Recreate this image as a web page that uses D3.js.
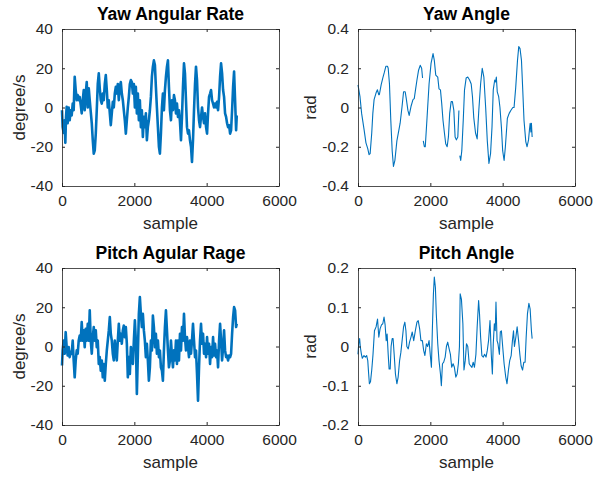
<!DOCTYPE html>
<html>
<head>
<meta charset="utf-8">
<script src="https://cdn.jsdelivr.net/npm/d3@7"></script>
<style>
  body { margin: 0; background: #fff; }
  svg { display: block; font-family: "Liberation Sans", Arial, Helvetica, sans-serif; }
</style>
</head>
<body>
<svg></svg>
<script>
const width = 593;
const height = 480;

// x ticks shared by all panels
const xTicks = [0, 2000, 4000, 6000];

// Yaw Angular Rate (degree/s)
const yawRateX = [0,18,46,74,92,111,129,157,185,212,240,268,296,323,351,379,407,434,462,490,518,545,573,601,628,656,684,712,740,767,795,823,851,878,906,934,961,989,1017,1044,1072,1100,1128,1155,1183,1211,1239,1266,1294,1322,1349,1377,1405,1432,1460,1488,1515,1543,1571,1599,1626,1654,1682,1709,1737,1765,1793,1820,1848,1876,1904,1931,1959,1987,2015,2042,2070,2098,2125,2153,2181,2208,2236,2264,2291,2319,2347,2374,2402,2430,2458,2486,2513,2541,2569,2596,2624,2652,2680,2707,2735,2763,2790,2818,2846,2874,2902,2929,2957,2985,3013,3040,3068,3096,3123,3151,3179,3206,3234,3262,3290,3317,3345,3373,3400,3428,3456,3484,3511,3539,3567,3594,3622,3650,3678,3705,3733,3761,3789,3816,3844,3872,3900,3927,3955,3983,4011,4038,4066,4094,4121,4149,4177,4204,4232,4260,4287,4315,4343,4371,4398,4426,4454,4481,4509,4537,4564,4592,4620,4648,4675,4703,4731,4758,4786,4814,4832];
const yawRateY = [-1.4,-10,-13,-6.5,-18,-5,0.3,-8,0,-6.5,-1.4,-4,2,-1.4,15.7,8.9,3.7,6.3,3.7,5.4,1.2,-3,3.7,8.9,-1.4,7.1,13,0,9.8,3.7,-2.2,-8,-16.7,-23.5,-21.8,-13.3,-1.4,12,17.4,9.8,3.7,2,7.1,3.7,12,16.5,8.9,0,3.7,-3,-9,-3,2.9,0,7.1,10.5,7.1,12,3.7,10.5,13,7.1,3.7,-1.4,-6.5,-13.3,-6.5,0,5.4,12,14,13,7.1,12,0,10.5,-3,7.1,-6.5,3.7,-10,-1.4,-15,-4.8,-10,-3,-16.7,-10,-6.5,-1.4,5.4,15.7,20.8,24,21.6,10.5,0,-10,-20,-23.5,-13.3,0,7.1,-1.4,8.9,15.7,20.8,24,10.5,-1.4,-6.5,3.7,-1.4,6.3,3.7,-3,2,-4.8,-1.4,-7.3,-16.7,-4.8,10.5,22.5,17.4,3.7,-10,-13.3,-11.6,-16.7,-20,-27.7,-16.7,-1.4,12,20.8,14,0,-6.5,-10,-4.8,0,-4.8,-8,-3,-10,-13.3,-3,5.4,7.1,8.9,3.7,2,0,2,0,2.9,-1.4,5.4,15.7,22.5,17.4,8.9,5.4,-3,-4.8,-8,-10,-9,-13.3,-11.6,-1.4,10.5,18.3,3.7,-11.6,-4];

// Yaw Angle (rad), null marks a break in the record
const yawAngX = [0,55,100,170,220,270,305,335,380,410,445,500,537,575,590,640,685,730,770,815,835,870,907,945,980,1020,1075,1130,1165,1215,1260,1305,1335,1380,1415,1465,1520,1555,1590,1630,1675,1720,1760,1785,1795,1805,1835,1860,1910,1965,2020,2075,2110,2150,2205,2240,2280,2315,2350,2390,2425,2465,2500,2535,2575,2610,2650,2685,2720,2760,2790,2800,2815,2840,2870,2910,2945,2990,3035,3085,3130,3165,3200,3250,3295,3340,3390,3435,3480,3530,3575,3620,3665,3705,3740,3780,3805,3825,3850,3890,3925,3965,4000,4040,4075,4130,4180,4225,4280,4315,4360,4410,4445,4480,4520,4555,4590,4640,4675,4715,4740,4760,4780,4795,4815];
const yawAngY = [0.115,0.055,-0.03,-0.115,-0.18,-0.21,-0.24,-0.235,-0.13,-0.03,0.04,0.075,0.09,0.065,0.065,0.115,0.15,0.18,0.21,0.21,0.2,0.12,-0.065,-0.22,-0.30,-0.27,-0.17,-0.115,-0.08,0.0,0.08,0.08,0.045,-0.015,-0.04,0.005,0.04,0.045,0.09,0.14,0.19,0.215,0.2,0.15,null,-0.17,-0.2,-0.2,-0.05,0.12,0.225,0.275,0.24,0.165,0.155,0.095,0.09,0.02,-0.065,-0.13,-0.185,-0.2,-0.15,-0.03,0.03,0.03,-0.015,-0.15,-0.165,-0.15,-0.015,null,-0.245,-0.27,-0.22,-0.065,0.09,0.15,0.155,0.14,0.12,0.055,-0.05,-0.13,-0.16,-0.015,0.12,0.2,0.155,0.0,-0.17,-0.285,-0.235,-0.1,0.09,0.14,0.13,0.155,0.08,0.055,0.0,-0.1,-0.22,-0.27,-0.2,-0.055,-0.03,-0.015,0.0,0.0,0.1,0.24,0.31,0.30,0.24,0.09,-0.065,-0.175,-0.2,-0.165,-0.115,-0.08,-0.125,-0.08,-0.15];

// Pitch Agular Rage (degree/s)
const pitchRateX = [0,18,46,74,102,129,157,185,212,240,268,296,323,351,379,407,434,462,490,518,545,573,601,628,656,684,712,740,767,795,823,851,878,906,934,961,989,1017,1044,1072,1100,1128,1155,1183,1211,1239,1266,1294,1322,1349,1377,1405,1432,1460,1488,1515,1543,1571,1599,1626,1654,1682,1709,1737,1765,1793,1820,1848,1876,1904,1931,1959,1987,2015,2042,2070,2098,2125,2153,2181,2208,2236,2264,2291,2319,2347,2374,2402,2430,2458,2486,2513,2541,2569,2596,2624,2652,2680,2707,2735,2763,2790,2818,2846,2874,2902,2929,2957,2985,3013,3040,3068,3096,3123,3151,3179,3206,3234,3262,3290,3317,3345,3373,3400,3428,3456,3484,3511,3539,3567,3594,3622,3650,3678,3705,3733,3761,3789,3816,3844,3872,3900,3927,3955,3983,4011,4038,4066,4094,4121,4149,4177,4204,4232,4260,4287,4315,4343,4371,4398,4426,4454,4481,4509,4537,4564,4592,4620,4648,4675,4703,4731,4758,4786,4814,4832];
const pitchRateY = [-9.7,-2,3,-3.7,7.3,-0.3,-4.6,-0.3,-5.4,-2.9,-3.7,3,-7.1,-15.7,-7.1,-2,-3.7,3,5.6,3,12.4,3,8.2,-0.3,9,3,11.6,3,18.4,3,-3.7,4.8,9.9,3,8.2,-0.3,3,-8.9,-5.4,-12.3,-7.1,-15.7,-8.9,-17.4,-8.9,-2,3,8.2,15,6.5,3,-3.7,-7.1,3,-2,-7.1,3,11.6,3,6.5,1.4,8.2,10.7,4.8,9.9,1.4,-15.7,-5.4,-14,-0.3,-7.1,-8.9,3,13.3,3,-24.2,-3.7,16.7,25.2,16.7,9.9,16.7,8.2,3,-5.4,1.4,-7.1,-17.4,-10.6,3,-2,15.8,9.9,-0.3,6.5,-3.7,3,-5.4,-2,-10.6,-12.3,-17.4,-2,9.9,18.4,8.2,-2,-10.6,-7.1,3,-4.6,-10.6,-2,-7.1,3,-8.9,3,-7.1,6.5,-2,9.9,3,16.7,4.8,-2,4.8,-0.3,-5.4,3,-3.7,3,11.6,3,-5.4,-2,-14,-27.6,-10.6,3,11.6,1.4,6.5,-3.7,1.4,-5.4,4.8,-3.7,1.4,-8.9,-0.3,-5.4,4.8,-4.6,1.4,-5.4,-2,-10.6,3,11.6,3,-7.1,-0.3,8.2,-2,-5.4,-4.6,-7.1,-4.6,-5.4,-3.7,6.5,15,20.1,18.4,9.9,11.6];

// Pitch Angle (rad)
const pitchAngX = [0,20,45,65,95,120,165,205,240,270,295,315,345,380,415,455,500,540,575,610,650,685,720,750,780,805,835,860,890,915,945,970,1000,1035,1075,1110,1150,1185,1220,1260,1295,1325,1350,1390,1425,1465,1500,1540,1585,1630,1665,1705,1740,1780,1815,1850,1890,1925,1965,2000,2030,2055,2085,2110,2140,2165,2205,2240,2280,2305,2335,2370,2410,2445,2480,2520,2555,2590,2630,2665,2705,2740,2775,2805,2825,2860,2900,2930,2965,3000,3035,3075,3110,3150,3185,3220,3260,3295,3335,3360,3390,3425,3465,3500,3540,3575,3610,3650,3685,3715,3740,3770,3795,3815,3845,3870,3910,3935,3965,4000,4040,4085,4120,4160,4195,4235,4270,4300,4325,4365,4400,4440,4475,4510,4550,4585,4620,4650,4685,4725,4760,4795,4815];
const pitchAngY = [-0.02,0.007,0.02,-0.002,-0.02,-0.03,-0.023,-0.027,-0.023,-0.036,-0.07,-0.095,-0.09,-0.06,-0.02,0.04,0.05,0.07,0.024,0.045,0.055,0.058,0.075,0.055,0.015,0.032,-0.02,-0.057,-0.057,0.0,0.02,0.02,-0.02,-0.07,-0.095,-0.078,-0.036,-0.015,0.015,0.05,0.062,0.04,0.0,-0.006,0.011,0.024,0.037,0.015,0.04,0.062,0.066,0.045,0.015,0.015,-0.01,-0.023,0.007,0.0,0.015,-0.023,-0.053,0.04,0.134,0.177,0.15,0.083,0.007,-0.036,-0.07,-0.1,-0.044,-0.04,-0.027,0.0,0.011,-0.006,-0.02,-0.053,-0.044,-0.053,-0.078,-0.07,-0.044,0.0,0.134,0.12,0.058,-0.06,-0.036,0.007,0.0,-0.044,-0.049,-0.053,-0.04,-0.053,-0.02,0.05,0.117,0.083,0.024,-0.023,-0.027,-0.02,-0.027,-0.01,0.015,0.066,-0.02,-0.07,0.007,0.058,0.04,0.113,0.015,0.007,-0.02,0.037,0.04,0.0,-0.044,-0.078,-0.095,-0.06,-0.036,-0.023,0.015,0.04,0.0,0.024,0.05,0.015,-0.02,-0.049,-0.06,-0.04,-0.04,0.024,0.083,0.11,0.095,0.04,0.02];

const panels = [
  {title: "Yaw Angular Rate", ylabel: "degree/s", left: 62, top: 29, xs: yawRateX, ys: yawRateY,
   yDomain: [-40, 40], yTicks: [-40, -20, 0, 20, 40], lw: 2.6},
  {title: "Yaw Angle", ylabel: "rad", left: 358, top: 29, xs: yawAngX, ys: yawAngY,
   yDomain: [-0.4, 0.4], yTicks: [-0.4, -0.2, 0, 0.2, 0.4], lw: 1.1},
  {title: "Pitch Agular Rage", ylabel: "degree/s", left: 62, top: 268, xs: pitchRateX, ys: pitchRateY,
   yDomain: [-40, 40], yTicks: [-40, -20, 0, 20, 40], lw: 2.6},
  {title: "Pitch Angle", ylabel: "rad", left: 358, top: 268, xs: pitchAngX, ys: pitchAngY,
   yDomain: [-0.2, 0.2], yTicks: [-0.2, -0.1, 0, 0.1, 0.2], lw: 1.1}
];

const pw = 217;
const ph = 157;
const axisColor = "#262626";

let svg = d3.select("svg")
  .attr("width", width)
  .attr("height", height);

panels.forEach(p => {
  let g = svg.append("g").attr("transform", `translate(${p.left}, ${p.top})`);

  let x = d3.scaleLinear().domain([0, 6000]).range([0, pw]);
  let y = d3.scaleLinear().domain(p.yDomain).range([ph, 0]);

  // data line
  let pts = p.xs.map((d, i) => [d, p.ys[i]]);
  let line = d3.line()
    .defined(d => d[1] !== null)
    .x(d => x(d[0]))
    .y(d => y(d[1]));
  g.append("path")
    .datum(pts)
    .attr("d", line)
    .attr("fill", "none")
    .attr("stroke", "#0072BD")
    .attr("stroke-width", p.lw)
    .attr("stroke-linejoin", "round");

  // axes with inward ticks, box on all sides
  let fmt = d => String(d);
  let styleAxis = sel => {
    sel.select(".domain").remove();
    sel.selectAll("line").attr("stroke", axisColor);
    sel.selectAll("text")
      .attr("fill", axisColor)
      .style("font-size", "15.5px");
  };
  g.append("g").attr("transform", `translate(0, ${ph})`)
    .call(d3.axisBottom(x).tickValues(xTicks).tickFormat(fmt).tickSizeInner(-3).tickSizeOuter(0).tickPadding(9))
    .call(styleAxis);
  g.append("g")
    .call(d3.axisTop(x).tickValues(xTicks).tickFormat("").tickSizeInner(-3).tickSizeOuter(0))
    .call(styleAxis);
  g.append("g")
    .call(d3.axisLeft(y).tickValues(p.yTicks).tickFormat(fmt).tickSizeInner(-3).tickSizeOuter(0).tickPadding(9))
    .call(styleAxis);
  g.append("g").attr("transform", `translate(${pw}, 0)`)
    .call(d3.axisRight(y).tickValues(p.yTicks).tickFormat("").tickSizeInner(-3).tickSizeOuter(0))
    .call(styleAxis);

  g.append("rect")
    .attr("x", 0.5).attr("y", 0.5)
    .attr("width", pw).attr("height", ph)
    .attr("fill", "none")
    .attr("stroke", axisColor)
    .attr("stroke-width", 0.8);

  g.append("text")
    .attr("x", pw / 2).attr("y", -9)
    .attr("text-anchor", "middle")
    .attr("fill", "#000")
    .style("font-size", "17.5px")
    .style("font-weight", "bold")
    .text(p.title);

  g.append("text")
    .attr("x", pw / 2).attr("y", ph + 43)
    .attr("text-anchor", "middle")
    .attr("fill", axisColor)
    .style("font-size", "17px")
    .text("sample");

  let lx = p.ylabel === "rad" ? -42 : -37;
  g.append("text")
    .attr("transform", `translate(${lx}, ${ph / 2}) rotate(-90)`)
    .attr("text-anchor", "middle")
    .attr("fill", axisColor)
    .style("font-size", "17px")
    .text(p.ylabel);
});
</script>
</body>
</html>
